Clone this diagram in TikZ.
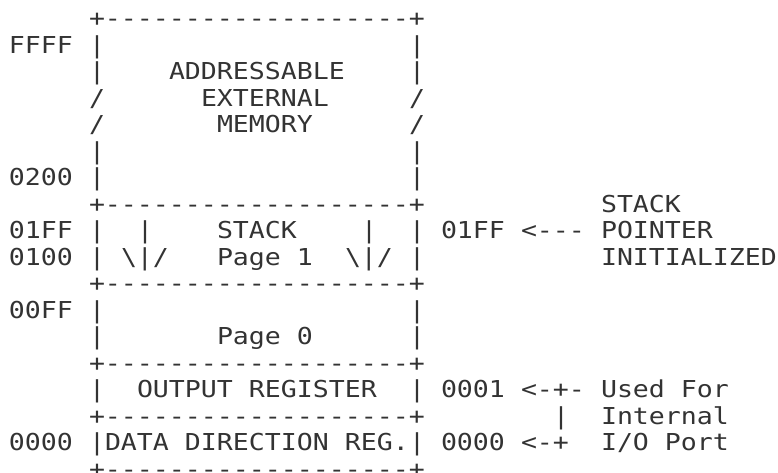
\documentclass[tikz,border=0pt]{standalone}
\usepackage{fontspec}
\newfontfamily\ascfont{DejaVu Sans Mono}[FakeStretch=1.14, Ligatures=TeXOff]
\newcommand\hl{+-{}-{}-{}-{}-{}-{}-{}-{}-{}-{}-{}-{}-{}-{}-{}-{}-{}-{}-{}+}
\newcommand\putt[4]{\node[asc] (#1) at ({9pt+16pt*#3},{-26.5pt*#2}) {#4};}
\tikzset{asc/.style={anchor=base west, inner sep=0pt, outer sep=0pt,
  font=\ascfont\fontsize{23.3pt}{26.5pt}\selectfont, text=black!80}}
\begin{document}
\begin{tikzpicture}
\useasboundingbox (0,0) rectangle (778pt,-472pt);
% row 1
\putt{b1}{1}{5}{\hl}
% row 2
\putt{aFFFF}{2}{0}{FFFF}
\putt{l2}{2}{5}{|}\putt{r2}{2}{25}{|}
% row 3
\putt{l3}{3}{5}{|}\putt{addr}{3}{10}{ADDRESSABLE}\putt{r3}{3}{25}{|}
% row 4
\putt{l4}{4}{5}{/}\putt{ext}{4}{12}{EXTERNAL}\putt{r4}{4}{25}{/}
% row 5
\putt{l5}{5}{5}{/}\putt{mem}{5}{13}{MEMORY}\putt{r5}{5}{25}{/}
% row 6
\putt{l6}{6}{5}{|}\putt{r6}{6}{25}{|}
% row 7
\putt{a0200}{7}{0}{0200}
\putt{l7}{7}{5}{|}\putt{r7}{7}{25}{|}
% row 8
\putt{b8}{8}{5}{\hl}
\putt{spstack}{8}{37}{STACK}
% row 9
\putt{a01FF}{9}{0}{01FF}
\putt{l9}{9}{5}{|}\putt{il9}{9}{8}{|}\putt{stack}{9}{13}{STACK}
\putt{ir9}{9}{22}{|}\putt{r9}{9}{25}{|}
\putt{p01FF}{9}{27}{01FF}\putt{arr9}{9}{32}{<-{}-{}-}\putt{pointer}{9}{37}{POINTER}
% row 10
\putt{a0100}{10}{0}{0100}
\putt{l10}{10}{5}{|}\putt{dl10}{10}{7}{\textbackslash|/}
\putt{page1}{10}{13}{Page 1}
\putt{dr10}{10}{21}{\textbackslash|/}\putt{r10}{10}{25}{|}
\putt{init}{10}{37}{INITIALIZED}
% row 11
\putt{b11}{11}{5}{\hl}
% row 12
\putt{a00FF}{12}{0}{00FF}
\putt{l12}{12}{5}{|}\putt{r12}{12}{25}{|}
% row 13
\putt{l13}{13}{5}{|}\putt{page0}{13}{13}{Page 0}\putt{r13}{13}{25}{|}
% row 14
\putt{b14}{14}{5}{\hl}
% row 15
\putt{l15}{15}{5}{|}\putt{outreg}{15}{8}{OUTPUT REGISTER}\putt{r15}{15}{25}{|}
\putt{p0001}{15}{27}{0001}\putt{arr15}{15}{32}{<-+-}\putt{used}{15}{37}{Used For}
% row 16
\putt{b16}{16}{5}{\hl}
\putt{v16}{16}{34}{|}\putt{internal}{16}{37}{Internal}
% row 17
\putt{a0000}{17}{0}{0000}
\putt{l17}{17}{5}{|}\putt{ddr}{17}{6}{DATA DIRECTION REG.}\putt{r17}{17}{25}{|}
\putt{p0000}{17}{27}{0000}\putt{arr17}{17}{32}{<-+}\putt{io}{17}{37}{I/O Port}
% row 18
\putt{b18}{18}{5}{\hl}
\end{tikzpicture}
\end{document}
